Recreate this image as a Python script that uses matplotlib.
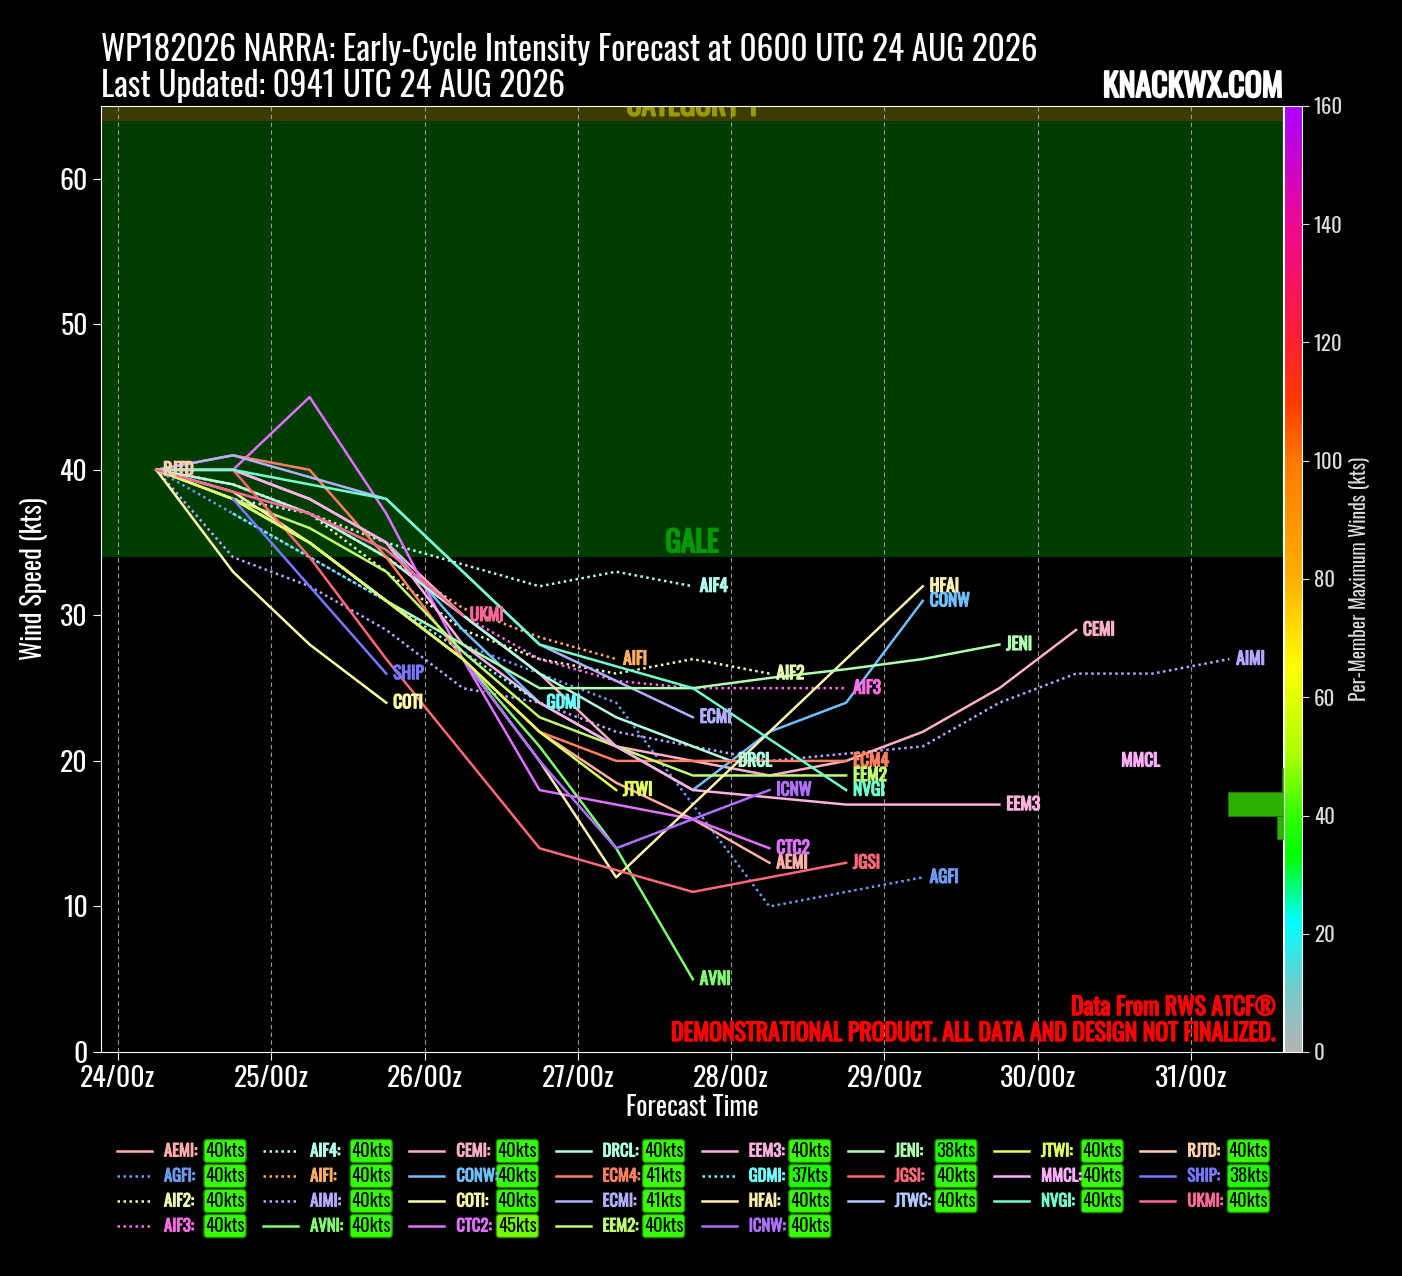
import numpy as np
import matplotlib
matplotlib.use('Agg')
import matplotlib.pyplot as plt
import matplotlib.patheffects as pe
from matplotlib import font_manager as fm
from matplotlib.colors import LinearSegmentedColormap, Normalize, to_rgb
from matplotlib.cm import ScalarMappable
from matplotlib.patches import FancyBboxPatch


def pick_narrow_font():
    # look for a condensed face, the chart uses an Oswald-like font
    entries = fm.fontManager.ttflist
    names = {f.name for f in entries}
    for fam in ['Oswald', 'Roboto Condensed', 'Liberation Sans Narrow',
                'Noto Sans Condensed', 'Open Sans Condensed', 'DejaVu Sans Condensed',
                'Noto Sans Display Condensed']:
        if fam in names:
            return fam, 'normal'
    for fam in ['Roboto', 'Noto Sans', 'Open Sans', 'DejaVu Sans', 'Liberation Sans']:
        for f in entries:
            if f.name == fam and 'condensed' in str(f.stretch):
                return fam, 'condensed'
    return 'DejaVu Sans', 'normal'


def heavy(color, w=1.0):
    # the condensed face has no bold file here, thicken the glyphs instead
    return [pe.withStroke(linewidth=w, foreground=color)]


FONT, STRETCH = pick_narrow_font()
plt.rcParams['font.family'] = [FONT, 'DejaVu Sans']
plt.rcParams['font.stretch'] = STRETCH

# lead times, hours after 24/00z
HOURS = [6, 18, 30, 42, 54, 66, 78, 90, 102, 114, 126, 138, 150, 162, 174]
DAY_TICKS = [0, 24, 48, 72, 96, 120, 144, 168]
DAY_LABELS = ['24/00z', '25/00z', '26/00z', '27/00z', '28/00z', '29/00z', '30/00z', '31/00z']

# intensity forecasts (kts), None = no data
AEMI = [40, 38, 35, 31, 27, 22, 18.5, 16, 13]
AGFI = [40, 37, 34, 31, 28, 26, 24, 17, 10, 11, 12]
AIF2 = [40, 39, 37, 33, 29, 27, 26, 27, 26]
AIF3 = [40, 39, 37, 34, 30, 27, 25.5, 25, 25, 25]
AIF4 = [40, 38, 37, 35, 33.5, 32, 33, 32]
AIFI = [40, 39, 37, 34, 30.5, 28.5, 27]
AIMI = [40, 34, 32, 29, 25, 24, 22, 21, 20, 20.5, 21, 24, 26, 26, 27]
AVNI = [40, 38, 35, 31, 27, 21, 14, 5]
CEMI = [40, 40, 38, 35, 30, 26, 21, 20, 19, 20, 22, 25, 29]
CONW = [40, 40, 38, 35, 29, 24, 21, 18, 22, 24, 31]
COTI = [40, 33, 28, 24]
CTC2 = [40, 40, 45, 37, 27, 18, 17, 16, 14]
DRCL = [40, 39, 37, 34, 30, 26, 23, 21, 20]
DRCL_HOURS = [6, 18, 30, 42, 54, 66, 78, 90, 96]
ECM4 = [40, 41, 40, 34, 27, 22, 20, 20, 20, 20]
ECMI = [40, 41, 39.5, 38, 33, 28, 25.5, 23]
EEM2 = [40, 38, 36, 33, 27.5, 23, 21, 19, 19, 19]
EEM3 = [40, 40, 38, 35, 28, 24, 21, 18, 17.5, 17, 17, 17]
GDMI = [None, 37, 34, 31, 27.5, 24]
HFAI = [40, 38.5, 35, 31, 27, 20, 12, 17, 22, 27, 32]
ICNW = [40, 38, 35, 31, 27, 20, 14, 16, 18]
JENI = [None, 38, 35, 31, 28, 25, 25, 25, 25.7, 26.3, 27, 28]
JGSI = [40, 40, 34, 27, 20.5, 14, 12.5, 11, 12, 13]
JTWC = [40]
JTWI = [40, 38, 35, 31, 27, 22, 18]
MMCL = [40, None, 20]
MMCL_HOURS = [6, 18, 156]
NVGI = [40, 40, 39, 38, 33, 28, 26.5, 25, 21.5, 18]
RJTD = [40]
SHIP = [None, 38, 32, 26]
UKMI = [40, 38.5, 37, 34.5, 30]

SERIES = {
    'AEMI': (HOURS, AEMI), 'AGFI': (HOURS, AGFI), 'AIF2': (HOURS, AIF2),
    'AIF3': (HOURS, AIF3), 'AIF4': (HOURS, AIF4), 'AIFI': (HOURS, AIFI),
    'AIMI': (HOURS, AIMI), 'AVNI': (HOURS, AVNI), 'CEMI': (HOURS, CEMI),
    'CONW': (HOURS, CONW), 'COTI': (HOURS, COTI), 'CTC2': (HOURS, CTC2),
    'DRCL': (DRCL_HOURS, DRCL), 'ECM4': (HOURS, ECM4), 'ECMI': (HOURS, ECMI),
    'EEM2': (HOURS, EEM2), 'EEM3': (HOURS, EEM3), 'GDMI': (HOURS, GDMI),
    'HFAI': (HOURS, HFAI), 'ICNW': (HOURS, ICNW), 'JENI': (HOURS, JENI),
    'JGSI': (HOURS, JGSI), 'JTWC': (HOURS, JTWC), 'JTWI': (HOURS, JTWI),
    'MMCL': (MMCL_HOURS, MMCL), 'NVGI': (HOURS, NVGI), 'RJTD': (HOURS, RJTD),
    'SHIP': (HOURS, SHIP), 'UKMI': (HOURS, UKMI),
}

DOT = (0, (1, 1.4))
STYLE = {
    'AEMI': ('#ffb0a8', '-'), 'AGFI': ('#6f9cf0', DOT), 'AIF2': ('#e8ffb0', DOT),
    'AIF3': ('#ff6ee8', DOT), 'AIF4': ('#b0fff0', DOT), 'AIFI': ('#ffb060', DOT),
    'AIMI': ('#b8a8ff', DOT), 'AVNI': ('#80ff70', '-'), 'CEMI': ('#ffb0c8', '-'),
    'CONW': ('#70c0ff', '-'), 'COTI': ('#ffffa8', '-'), 'CTC2': ('#e070ff', '-'),
    'DRCL': ('#b0ffe0', '-'), 'ECM4': ('#ff8060', '-'), 'ECMI': ('#b0b0ff', '-'),
    'EEM2': ('#c0ff70', '-'), 'EEM3': ('#ffb0e0', '-'), 'GDMI': ('#70ffff', DOT),
    'HFAI': ('#fff0b0', '-'), 'ICNW': ('#b070ff', '-'), 'JENI': ('#b0ffb0', '-'),
    'JGSI': ('#ff6878', '-'), 'JTWC': ('#b0c8ff', '-'), 'JTWI': ('#e0ff60', '-'),
    'MMCL': ('#ffb0ff', '-'), 'NVGI': ('#70ffd0', '-'), 'RJTD': ('#ffd0b0', '-'),
    'SHIP': ('#7878ff', '-'), 'UKMI': ('#ff6898', '-'),
}

cmap = LinearSegmentedColormap.from_list('vmax', [
    (0 / 160, '#b4b4b4'), (10 / 160, '#78c8c8'), (22 / 160, '#00ffff'),
    (33 / 160, '#00ff00'), (40 / 160, '#33ff00'), (50 / 160, '#aaff00'),
    (65 / 160, '#ffff00'), (80 / 160, '#ffb000'), (100 / 160, '#ff7a00'),
    (110 / 160, '#ff3a00'), (120 / 160, '#ff2030'), (140 / 160, '#ee0890'),
    (160 / 160, '#aa00ff')])
norm = Normalize(0, 160)

W, H = 1402, 1276
fig = plt.figure(figsize=(W / 100, H / 100), dpi=100, facecolor='black')

ax = fig.add_axes([101 / W, 1 - 1052 / H, 1182 / W, 946 / H], facecolor='black')
ax.set_xlim(-2.66, 182.4)
ax.set_ylim(0, 65)
ax.axhspan(34, 64, color='#003c00', zorder=0, lw=0)
ax.axhspan(64, 83, color='#3d3c00', zorder=0, lw=0)
xmid = sum(ax.get_xlim()) / 2
ax.text(xmid, 34, 'GALE', ha='center', va='bottom', color='#009a00',
        fontsize=21, fontweight='bold', zorder=1, path_effects=heavy('#009a00', 1.3))
ax.text(xmid, 64, 'CATEGORY 1', ha='center', va='bottom', color='#9a9a00',
        fontsize=21, fontweight='bold', zorder=1, clip_on=True,
        path_effects=heavy('#9a9a00', 1.3))

ax.set_xticks(DAY_TICKS)
ax.set_xticklabels(DAY_LABELS)
ax.set_yticks(range(0, 61, 10))
ax.tick_params(colors='white', labelsize=20, length=6)
for lab in ax.get_xticklabels() + ax.get_yticklabels():
    lab.set_fontweight('light')
ax.xaxis.grid(True, color='#9a9a9a', linestyle=(0, (4, 3)), linewidth=0.8)
ax.set_axisbelow('line')
for s in ax.spines.values():
    s.set_color('white')
ax.set_ylabel('Wind Speed (kts)', color='white', fontsize=19, labelpad=8)
ax.set_xlabel('Forecast Time', color='white', fontsize=19, labelpad=1)

names = list(SERIES.keys())
maxes = []
ends = []
for name in names:
    hrs, vals = SERIES[name]
    color, ls = STYLE[name]
    v = np.array([np.nan if x is None else x for x in vals], dtype=float)
    h = np.array(hrs[:len(v)], dtype=float)
    maxes.append(np.nanmax(v))
    ax.plot(h, v, color=color, linestyle=ls, lw=1.8, zorder=3)
    last = np.where(~np.isnan(v))[0][-1]
    ends.append((h[last], v[last]))
maxes = np.array(maxes)

# end-point labels; a later label on the same spot hides the earlier one
for i, name in enumerate(names):
    if ends[i] in ends[i + 1:]:
        continue
    c = STYLE[name][0]
    ax.annotate(name, ends[i], xytext=(5, 0), textcoords='offset points',
                ha='left', va='center', color=c, fontsize=12.5,
                fontweight='bold', zorder=5, path_effects=heavy(c, 0.9))

fig.text(101 / W, 1 - 60 / H,
         'WP182026 NARRA: Early-Cycle Intensity Forecast at 0600 UTC 24 AUG 2026',
         color='white', fontsize=24, va='baseline', ha='left')
fig.text(101 / W, 1 - 97 / H, 'Last Updated: 0941 UTC 24 AUG 2026',
         color='white', fontsize=24, va='baseline', ha='left')
fig.text(1283 / W, 1 - 97 / H, 'KNACKWX.COM', color='white', fontsize=23,
         fontweight='bold', va='baseline', ha='right', path_effects=heavy('white', 1.4))
fig.text(1276 / W, 1 - 1015 / H, 'Data From RWS ATCF®', color='#ff0000',
         fontsize=17.2, fontweight='bold', va='baseline', ha='right',
         path_effects=heavy('#ff0000', 1.1))
fig.text(1276 / W, 1 - 1041 / H,
         'DEMONSTRATIONAL PRODUCT. ALL DATA AND DESIGN NOT FINALIZED.',
         color='#ff0000', fontsize=17.2, fontweight='bold', va='baseline', ha='right',
         path_effects=heavy('#ff0000', 1.1))

# per-member max histogram next to the colorbar
bins = np.arange(0, 164, 4)
counts, _ = np.histogram(maxes, bins=bins)
hax = fig.add_axes([1228 / W, 1 - 1052 / H, 56 / W, 946 / H])
hax.hist(maxes, bins=bins, orientation='horizontal', color='#2eb000',
         edgecolor='#1f7a00', lw=0.6)
hax.set_ylim(0, 160)
hax.set_xlim(counts.max(), 0)
hax.axis('off')
hax.patch.set_alpha(0)

cax = fig.add_axes([1284 / W, 1 - 1052 / H, 18 / W, 946 / H])
cb = fig.colorbar(ScalarMappable(norm=norm, cmap=cmap), cax=cax)
cb.set_ticks(range(0, 161, 20))
cb.ax.tick_params(colors='#dddddd', labelsize=15, length=5)
for lab in cb.ax.get_yticklabels():
    lab.set_fontweight('light')
cb.outline.set_edgecolor('white')
cb.set_label('Per-Member Maximum Winds (kts)', color='#dddddd', fontsize=14)

# legend, 8 columns filled the way matplotlib fills them
lax = fig.add_axes([0, 0, 1, 1])
lax.set_xlim(0, W)
lax.set_ylim(H, 0)
lax.axis('off')
ncol = 8
nrow = int(np.ceil(len(names) / ncol))
extra = len(names) % ncol
col_sizes = [nrow if c < extra else nrow - 1 for c in range(ncol)]
idx = 0
for c, size in enumerate(col_sizes):
    for r in range(size):
        name = names[idx]
        color, ls = STYLE[name]
        x0 = 117 + c * 146.2
        y0 = 1151 + r * 25
        lax.plot([x0, x0 + 35], [y0, y0], color=color, linestyle=ls, lw=1.8)
        lax.text(x0 + 47, y0, name + ':', color=color, fontsize=12,
                 fontweight='bold', va='center', ha='left',
                 path_effects=heavy(color, 0.7))
        fc = cmap(norm(maxes[idx]))
        ec = tuple(0.55 * np.array(to_rgb(fc)))
        lax.add_patch(FancyBboxPatch((x0 + 87, y0 - 11.5), 42, 23,
                                     boxstyle='round,pad=0,rounding_size=3',
                                     fc=fc, ec=ec, lw=1))
        lax.text(x0 + 108, y0, f'{int(round(maxes[idx]))}kts', color='black',
                 fontsize=13.5, va='center', ha='center')
        idx += 1

fig.savefig('out.png', dpi=100, facecolor='black')
